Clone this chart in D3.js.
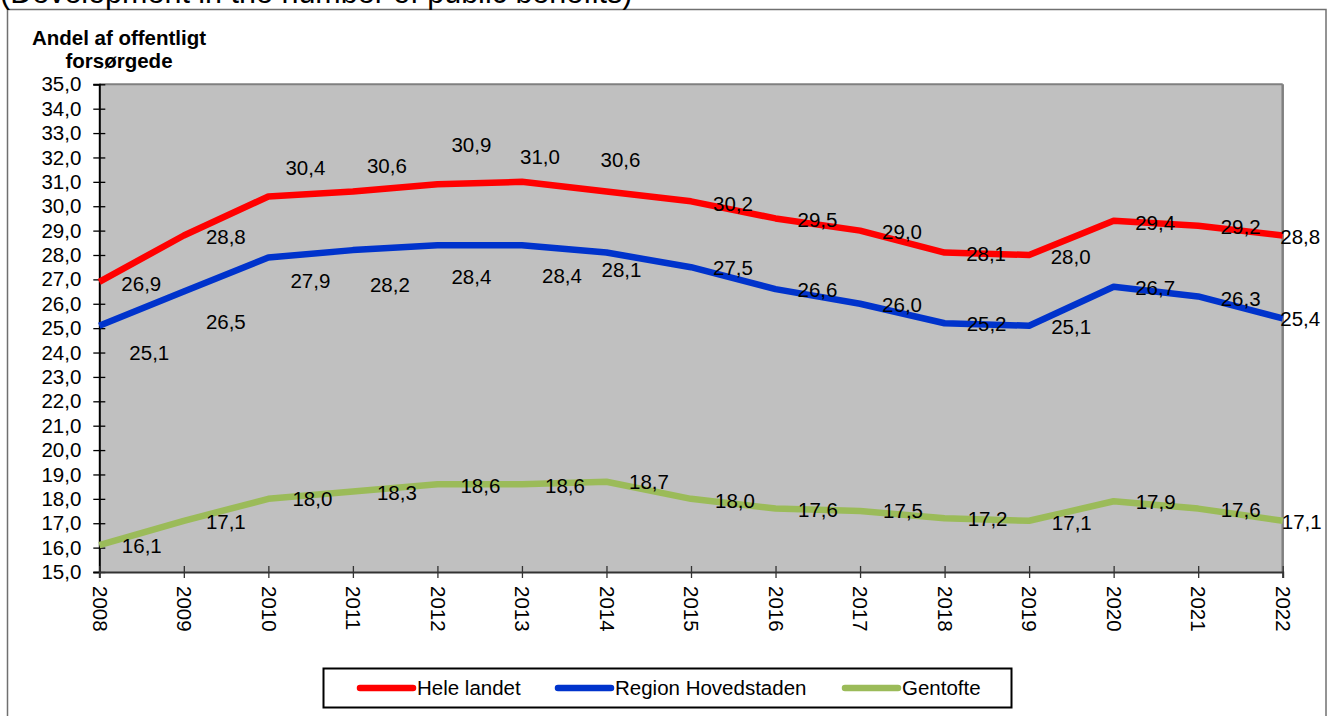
<!DOCTYPE html>
<html>
<head>
<meta charset="utf-8">
<script src="https://cdn.jsdelivr.net/npm/d3@7/dist/d3.min.js"></script>
<style>
  html, body { margin: 0; padding: 0; background: #ffffff; }
  svg { display: block; font-family: Arial, "Liberation Sans", sans-serif; }
</style>
</head>
<body>
<svg id="chart" width="1335" height="716"></svg>
<script>
// Years on the horizontal axis
const years = [2008, 2009, 2010, 2011, 2012, 2013, 2014, 2015, 2016, 2017, 2018, 2019, 2020, 2021, 2022];

// Share of the population on public benefits (%)
const heleLandet = [26.9, 28.8, 30.4, 30.6, 30.9, 31.0, 30.6, 30.2, 29.5, 29.0, 28.1, 28.0, 29.4, 29.2, 28.8];
const regionHovedstaden = [25.1, 26.5, 27.9, 28.2, 28.4, 28.4, 28.1, 27.5, 26.6, 26.0, 25.2, 25.1, 26.7, 26.3, 25.4];
const gentofte = [16.1, 17.1, 18.0, 18.3, 18.6, 18.6, 18.7, 18.0, 17.6, 17.5, 17.2, 17.1, 17.9, 17.6, 17.1];

// Axis ticks
const yTicks = d3.range(15, 35.5, 1);

const seriesNames = ["Hele landet", "Region Hovedstaden", "Gentofte"];
const seriesColors = ["#ff0000", "#0033cc", "#9bbb59"];

// Pixel offsets of each value label from its point
const labelOffsetsHele = [[42,2],[42,1],[37,-29],[34,-26],[34,-39],[18,-25],[14,-32],[42,2],[42,1.5],[42,1.7],[41.5,1.5],[41.5,1.7],[41.5,1.8],[42.5,1],[17.5,1]];
const labelOffsetsRegion = [[50,27],[42,30],[42,23],[37,35],[34,32],[40,31],[15,17],[42,1],[42,1],[42,1],[42,1],[42,1],[41.5,1.5],[42.5,2],[17.5,0]];
const labelOffsetsGentofte = [[42.5,0.5],[42,1],[44,0],[44,1.7],[43,1.4],[43,1.4],[42.5,0.5],[44,2],[42.5,1],[43,0],[43,0],[42.7,2],[42,1],[42.5,1.3],[19,1]];

const series = [
  { name: seriesNames[0], color: seriesColors[0], values: heleLandet, offsets: labelOffsetsHele },
  { name: seriesNames[1], color: seriesColors[1], values: regionHovedstaden, offsets: labelOffsetsRegion },
  { name: seriesNames[2], color: seriesColors[2], values: gentofte, offsets: labelOffsetsGentofte }
];

const fmt = v => d3.format(".1f")(v).replace(".", ",");
const FONT = 20.5;

const svg = d3.select("#chart");

// Outer frame
svg.append("rect")
  .attr("x", 7.5).attr("y", 9.5)
  .attr("width", 1318.5).attr("height", 730)
  .attr("fill", "#ffffff").attr("stroke", "#707070").attr("stroke-width", 1.5);

// Heading (partly above the page edge)
svg.append("text")
  .attr("x", 0).attr("y", 3)
  .attr("font-size", 30.5).attr("fill", "#000")
  .text("(Development in the number of public benefits)");

const plot = { left: 99.3, right: 1282.7, top: 84.3, bottom: 572 };

const x = d3.scaleLinear().domain([2008, 2022]).range([plot.left, plot.right]);
const y = d3.scaleLinear().domain([15, 35]).range([plot.bottom, plot.top]);

// Plot background
svg.append("rect")
  .attr("x", plot.left).attr("y", plot.top)
  .attr("width", plot.right - plot.left).attr("height", plot.bottom - plot.top)
  .attr("fill", "#c0c0c0");

// Top and right borders of the plot area
svg.append("line")
  .attr("x1", plot.left).attr("x2", plot.right)
  .attr("y1", plot.top).attr("y2", plot.top)
  .attr("stroke", "#808080").attr("stroke-width", 2);
svg.append("line")
  .attr("x1", plot.right).attr("x2", plot.right)
  .attr("y1", plot.top).attr("y2", plot.bottom)
  .attr("stroke", "#808080").attr("stroke-width", 2.5);

// Y axis title
const yTitle = svg.append("text")
  .attr("font-size", 20.5).attr("font-weight", "bold")
  .attr("text-anchor", "middle").attr("fill", "#000");
yTitle.append("tspan").attr("x", 119).attr("y", 45).text("Andel af offentligt");
yTitle.append("tspan").attr("x", 119).attr("y", 68).text("forsørgede");

// Y axis
const yAxis = svg.append("g")
  .attr("transform", `translate(${plot.left},0)`)
  .call(d3.axisLeft(y).tickValues(yTicks).tickFormat(fmt).tickSize(6).tickPadding(12));
yAxis.select(".domain").attr("stroke", "#000").attr("stroke-width", 2);
yAxis.selectAll(".tick line").attr("x1", -6).attr("x2", 6).attr("stroke", "#000").attr("stroke-width", 1.3);
yAxis.selectAll(".tick text")
  .attr("font-size", FONT).attr("fill", "#000")
  .attr("font-family", "Arial, 'Liberation Sans', sans-serif");

// X axis
const xAxis = svg.append("g")
  .attr("transform", `translate(0,${plot.bottom})`)
  .call(d3.axisBottom(x).tickValues(years).tickFormat(d3.format("d")).tickSize(6));
xAxis.select(".domain").attr("stroke", "#333").attr("stroke-width", 2);
xAxis.selectAll(".tick line").attr("y1", -6).attr("y2", 6).attr("stroke", "#333").attr("stroke-width", 1.3);
xAxis.selectAll(".tick text")
  .attr("font-size", FONT).attr("fill", "#000")
  .attr("font-family", "Arial, 'Liberation Sans', sans-serif")
  .attr("transform", "rotate(90)")
  .attr("text-anchor", "start")
  .attr("x", 14).attr("y", 0).attr("dy", "0.35em");

// Series lines
const line = d3.line()
  .x((d, i) => x(years[i]))
  .y(d => y(d));

series.forEach(s => {
  svg.append("path")
    .datum(s.values)
    .attr("d", line)
    .attr("fill", "none")
    .attr("stroke", s.color)
    .attr("stroke-width", 6.5)
    .attr("stroke-linejoin", "round");
});

// Value labels
series.forEach(s => {
  svg.append("g").selectAll("text")
    .data(s.values)
    .join("text")
    .attr("x", (d, i) => x(years[i]) + s.offsets[i][0])
    .attr("y", (d, i) => y(d) + s.offsets[i][1])
    .attr("dy", "0.35em")
    .attr("text-anchor", "middle")
    .attr("font-size", FONT)
    .attr("fill", "#000")
    .text(d => fmt(d));
});

// Legend
const legend = svg.append("g");
legend.append("rect")
  .attr("x", 323.5).attr("y", 668.5)
  .attr("width", 688).attr("height", 39)
  .attr("fill", "#ffffff").attr("stroke", "#000").attr("stroke-width", 2);

const legendItems = [
  { x1: 360, x2: 413, tx: 417 },
  { x1: 558, x2: 611, tx: 615 },
  { x1: 845, x2: 898, tx: 902 }
];
series.forEach((s, i) => {
  const it = legendItems[i];
  legend.append("line")
    .attr("x1", it.x1).attr("x2", it.x2)
    .attr("y1", 688).attr("y2", 688)
    .attr("stroke", s.color).attr("stroke-width", 6.5)
    .attr("stroke-linecap", "round");
  legend.append("text")
    .attr("x", it.tx).attr("y", 688).attr("dy", "0.35em")
    .attr("font-size", FONT).attr("fill", "#000")
    .text(s.name);
});
</script>
</body>
</html>
